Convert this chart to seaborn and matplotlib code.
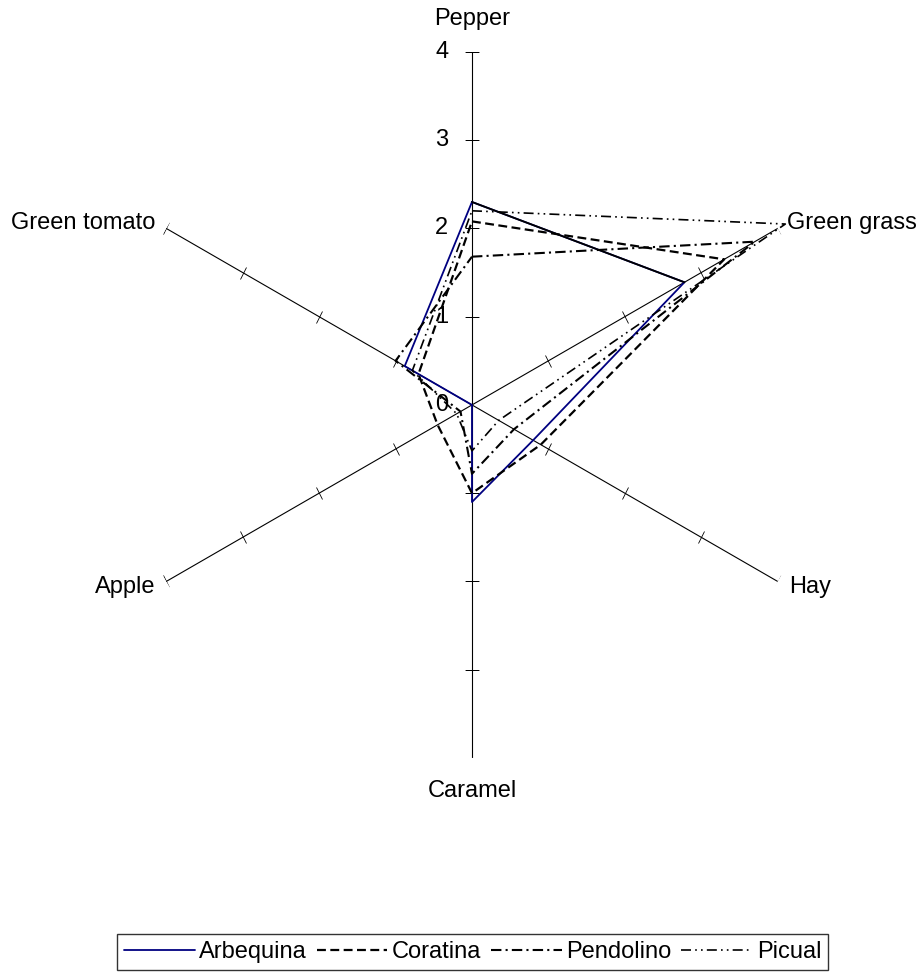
import numpy as np
import pandas as pd
import matplotlib
matplotlib.use("Agg")
import matplotlib.pyplot as plt
from matplotlib.markers import MarkerStyle
from matplotlib.transforms import Affine2D
import seaborn as sns

categories = ["Pepper", "Green grass", "Hay", "Caramel", "Apple", "Green tomato"]
cultivars = ["Arbequina", "Coratina", "Pendolino", "Picual"]

arbequina = [2.3, 2.78, 0.8, 1.1, 0.0, 0.88]
coratina = [2.08, 3.3, 0.9, 1.0, 0.45, 0.7]
pendolino = [1.68, 3.7, 0.55, 0.78, 0.15, 1.0]
picual = [2.2, 4.1, 0.35, 0.52, 0.2, 0.78]

tick_values = [1, 2, 3, 4]
tick_labels = ["0", "1", "2", "3", "4"]

sns.set_style("white")
plt.rcParams["font.family"] = ["Liberation Sans", "DejaVu Sans"]
plt.rcParams["text.color"] = "black"

fig = plt.figure(figsize=(9.23, 9.76), dpi=100)
ax = fig.add_axes([0.1289, 0.2234, 0.7649, 0.7234], projection="polar")
ax.set_theta_offset(np.pi / 2)
ax.set_theta_direction(-1)

n = len(categories)
angles = [2 * np.pi * k / n for k in range(n)]
closed = angles + [2 * np.pi]

# spokes with small cross ticks
for k, a in enumerate(angles):
    ax.plot([a, a], [0, 4], color="black", lw=0.8, zorder=1)
    tick = MarkerStyle("_", transform=Affine2D().rotate_deg(-60 * k))
    ax.plot([a] * len(tick_values), tick_values, linestyle="none", marker=tick,
            markersize=10, markeredgewidth=0.6, color="black", zorder=1)

styles = {
    "Arbequina": dict(color="#000080", linewidth=1.3, linestyle="-"),
    "Coratina": dict(color="black", linewidth=1.6, linestyle=(0, (4, 2))),
    "Pendolino": dict(color="black", linewidth=1.5, linestyle=(0, (5, 2, 1, 2))),
    "Picual": dict(color="black", linewidth=1.2, linestyle=(0, (6, 2.5, 1, 2.5, 1, 2.5))),
}
series = {"Arbequina": arbequina, "Coratina": coratina,
          "Pendolino": pendolino, "Picual": picual}

for name in cultivars:
    vals = series[name]
    df = pd.DataFrame({"theta": closed, "score": vals + vals[:1]})
    sns.lineplot(data=df, x="theta", y="score", ax=ax, sort=False, estimator=None,
                 label=name, clip_on=False, zorder=3, **styles[name])

# Excel drew the Pepper -> Green grass stretch of Arbequina in black
seg = pd.DataFrame({"theta": angles[:2], "score": arbequina[:2]})
sns.lineplot(data=seg, x="theta", y="score", ax=ax, sort=False, estimator=None,
             color="black", linewidth=1.3, zorder=4, legend=False)

ax.set_rlim(0, 4)
ax.set_xticks([])
ax.set_yticks([])
ax.set_xlabel("")
ax.set_ylabel("")
ax.grid(False)
ax.spines["polar"].set_visible(False)
ax.patch.set_alpha(0)

# radial tick labels on the Pepper spoke
for i, lab in enumerate(tick_labels):
    ax.annotate(lab, xy=(0, i), xytext=(-17, 0), textcoords="offset points",
                ha="right", va="center", fontsize=17, zorder=2)

# category labels
offsets = [((0, 24), "center", "center"),
           ((7, 4), "left", "center"),
           ((8, -4), "left", "center"),
           ((0, -24), "center", "center"),
           ((-8, -4), "right", "center"),
           ((-8, 4), "right", "center")]
for a, cat, (off, ha, va) in zip(angles, categories, offsets):
    ax.annotate(cat, xy=(a, 4), xytext=off, textcoords="offset points",
                ha=ha, va=va, fontsize=17, annotation_clip=False)

handles, labels = ax.get_legend_handles_labels()
ax.get_legend().remove()
leg = fig.legend(handles, labels, loc="lower center", bbox_to_anchor=(0.512, 0.0),
                 ncol=4, fontsize=17, frameon=True, fancybox=False, edgecolor="black",
                 handlelength=3.0, handletextpad=0.2, columnspacing=0.4,
                 borderpad=0.3, borderaxespad=0.25)
leg.get_frame().set_linewidth(1.0)

fig.savefig("out.png", dpi=100)
